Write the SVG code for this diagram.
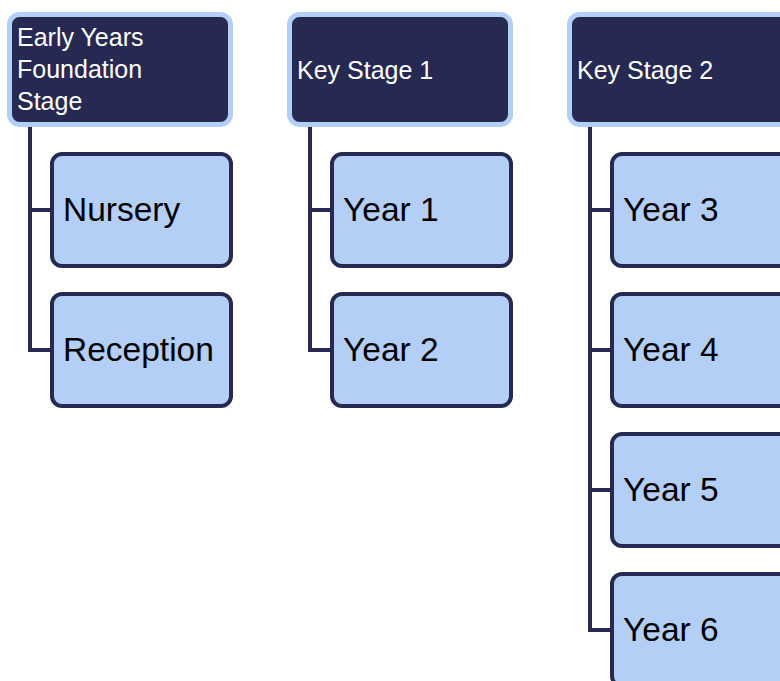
<svg xmlns="http://www.w3.org/2000/svg" width="780" height="681" viewBox="0 0 780 681">
<style>
.hdr rect{fill:#262951;stroke:#b4cff5;stroke-width:5}
.hdr text{fill:#ffffff;font-family:"Liberation Sans","Noto Sans",sans-serif;font-size:25px}
.child rect{fill:#b4cff5;stroke:#262951;stroke-width:4}
.child text{fill:#000000;font-family:"Liberation Sans","Noto Sans",sans-serif;font-size:33.5px}
.conn path{fill:none;stroke:#262951;stroke-width:4;stroke-linejoin:miter}
</style>
<rect width="780" height="681" fill="#ffffff"/>
<g class="conn" id="connectors">
<path d="M30,127 V350 H52 M30,210 H52"/>
<path d="M310,127 V350 H332 M310,210 H332"/>
<path d="M590,127 V630 H612 M590,210 H612 M590,350 H612 M590,490 H612"/>
</g>
<g class="hdr" id="eyfs"><rect x="9.5" y="14.5" width="221" height="110" rx="10"/><text x="17" y="46">Early Years</text><text x="17" y="78">Foundation</text><text x="17" y="110">Stage</text></g>
<g class="hdr" id="ks1"><rect x="289.5" y="14.5" width="221" height="110" rx="10"/><text x="297" y="79">Key Stage 1</text></g>
<g class="hdr" id="ks2"><rect x="569.5" y="14.5" width="221" height="110" rx="10"/><text x="577" y="79">Key Stage 2</text></g>
<g class="child" id="nursery"><rect x="52" y="154" width="179" height="112" rx="10"/><text x="63" y="221">Nursery</text></g>
<g class="child" id="reception"><rect x="52" y="294" width="179" height="112" rx="10"/><text x="63" y="361">Reception</text></g>
<g class="child" id="year1"><rect x="332" y="154" width="179" height="112" rx="10"/><text x="343" y="221">Year 1</text></g>
<g class="child" id="year2"><rect x="332" y="294" width="179" height="112" rx="10"/><text x="343" y="361">Year 2</text></g>
<g class="child" id="year3"><rect x="612" y="154" width="179" height="112" rx="10"/><text x="623" y="221">Year 3</text></g>
<g class="child" id="year4"><rect x="612" y="294" width="179" height="112" rx="10"/><text x="623" y="361">Year 4</text></g>
<g class="child" id="year5"><rect x="612" y="434" width="179" height="112" rx="10"/><text x="623" y="501">Year 5</text></g>
<g class="child" id="year6"><rect x="612" y="574" width="179" height="112" rx="10"/><text x="623" y="641">Year 6</text></g>
</svg>
